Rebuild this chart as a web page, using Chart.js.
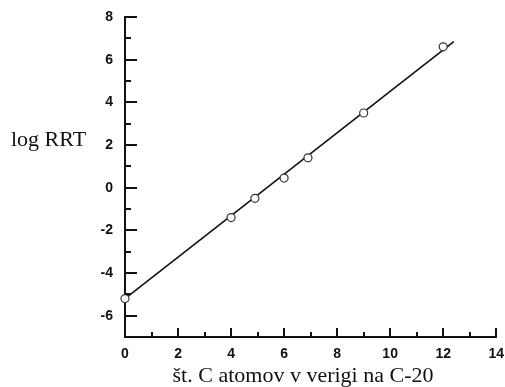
<!DOCTYPE html>
<html>
<head>
<meta charset="utf-8">
<script src="https://cdn.jsdelivr.net/npm/chart.js@4/dist/chart.umd.min.js"></script>
<style>
  html, body { margin: 0; padding: 0; background: #fff; }
  #wrap { position: relative; width: 505px; height: 387px; }
</style>
</head>
<body>
<div id="wrap"><canvas id="rrt-chart" width="505" height="387"></canvas></div>
<script>
// measured points (number of C atoms vs log RRT)
const carbonCounts = [0, 4, 4.9, 6, 6.9, 9, 12];
const logRRT = [-5.2, -1.4, -0.5, 0.45, 1.4, 3.5, 6.6];
// fitted straight line end points
const fitX = [0, 12.4];
const fitY = [-5.2, 6.85];

const xTitle = 'št. C atomov v verigi na C-20';
const yTitle = 'log RRT';

const INK = '#111';

// inward tick marks, major on even values, minor on odd
const innerTicks = {
  id: 'innerTicks',
  afterDraw(chart) {
    const ctx = chart.ctx;
    const { x, y } = chart.scales;
    const area = chart.chartArea;
    ctx.save();
    ctx.strokeStyle = INK;
    ctx.lineWidth = 2;
    y.ticks.forEach(t => {
      const py = Math.round(y.getPixelForValue(t.value));
      const len = t.value % 2 === 0 ? 12 : 6;
      ctx.beginPath();
      ctx.moveTo(area.left, py);
      ctx.lineTo(area.left + len, py);
      ctx.stroke();
    });
    x.ticks.forEach(t => {
      const px = Math.round(x.getPixelForValue(t.value));
      const len = t.value % 2 === 0 ? 9 : 5;
      ctx.beginPath();
      ctx.moveTo(px, area.bottom);
      ctx.lineTo(px, area.bottom - len);
      ctx.stroke();
    });

    // axis titles
    ctx.fillStyle = INK;
    ctx.textBaseline = 'alphabetic';
    ctx.font = '22px "Liberation Serif"';
    ctx.textAlign = 'left';
    ctx.fillText(yTitle, 11, 146);
    ctx.textAlign = 'center';
    ctx.fillText(xTitle, 303, 382);
    ctx.restore();
  }
};

const container = document.getElementById('rrt-chart').getContext('2d');

const tickFont = { family: '"Liberation Sans", Arial, sans-serif', size: 14, weight: 'bold' };
const evenOnly = v => (v % 2 === 0 ? String(v) : '');

new Chart(container, {
  type: 'scatter',
  data: {
    datasets: [
      {
        label: 'fit',
        data: fitX.map((v, i) => ({ x: v, y: fitY[i] })),
        showLine: true,
        borderColor: INK,
        borderWidth: 1.6,
        pointRadius: 0,
        clip: false,
        order: 2,
      },
      {
        label: 'log RRT',
        data: carbonCounts.map((v, i) => ({ x: v, y: logRRT[i] })),
        pointStyle: 'circle',
        pointRadius: 4,
        pointBorderWidth: 1.2,
        pointBorderColor: '#333',
        pointBackgroundColor: '#fff',
        clip: false,
        order: 1,
      },
    ]
  },
  options: {
    responsive: false,
    animation: false,
    layout: {
      padding: { top: 17, right: 7, left: 0, bottom: 0 }
    },
    plugins: {
      legend: { display: false },
      tooltip: { enabled: false },
    },
    scales: {
      x: {
        type: 'linear',
        min: 0,
        max: 14,
        grid: { display: false },
        border: { display: true, color: INK, width: 2 },
        ticks: {
          stepSize: 1,
          autoSkip: false,
          maxRotation: 0,
          padding: 1,
          color: INK,
          font: tickFont,
          callback: evenOnly,
        },
        afterFit(scale) { scale.height = 50; }
      },
      y: {
        type: 'linear',
        min: -7,
        max: 8,
        grid: { display: false },
        border: { display: true, color: INK, width: 2 },
        ticks: {
          stepSize: 1,
          autoSkip: false,
          padding: 4,
          color: INK,
          font: tickFont,
          callback: evenOnly,
        },
        afterFit(scale) { scale.width = 125; }
      }
    }
  },
  plugins: [innerTicks]
});
</script>
</body>
</html>
